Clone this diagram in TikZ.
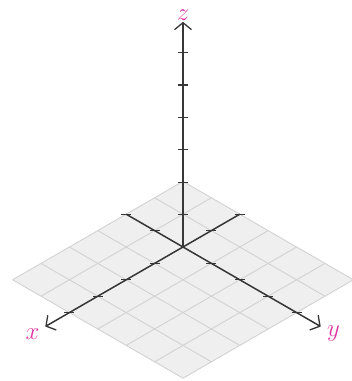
\documentclass[tikz,border=0pt]{standalone}
\usetikzlibrary{arrows.meta}
\definecolor{lab}{RGB}{222,55,165}
\definecolor{axc}{RGB}{55,55,55}
\definecolor{gfill}{RGB}{239,239,239}
\definecolor{gline}{RGB}{210,210,210}
\tikzset{
  axisline/.style={axc,line width=1.5pt,-{Straight Barb[length=7pt,width=17pt,line width=1.3pt]}},
  axisplain/.style={axc,line width=1.5pt},
  tickmark/.style={axc,line width=1.1pt},
  gridline/.style={gline,line width=0.9pt},
  axlabel/.style={lab,font=\fontsize{24}{26}\selectfont,inner sep=0pt}
}
\begin{document}
\begin{tikzpicture}[x={(-28.4pt,-16.4pt)},y={(28.4pt,-16.4pt)},z={(0pt,32.4pt)}]
\useasboundingbox (-183pt,-134pt) rectangle (169pt,247pt);
% plane
\fill[gfill] (-2,-2,0) -- (4,-2,0) -- (4,4,0) -- (-2,4,0) -- cycle;
\foreach \i in {-2,...,4}{
  \draw[gridline] (\i,-2,0) -- (\i,4,0);
  \draw[gridline] (-2,\i,0) -- (4,\i,0);
}
\coordinate (O) at (0,0,0);
\coordinate (xn) at (-2,0,0);
\coordinate (yn) at (0,-2,0);
\coordinate (xe) at (4.85,0,0);
\coordinate (ye) at (0,4.85,0);
\coordinate (ze) at (0,0,6.95);
\draw[axisplain] (xn) -- (O);
\draw[axisplain] (yn) -- (O);
\draw[axisline] (O) -- (xe);
\draw[axisline] (O) -- (ye);
\draw[axisline] (O) -- (ze);
\foreach \t in {-2,-1,1,2,3,4}{
  \draw[tickmark] (\t,0,0) ++(-5pt,0pt) -- ++(10pt,0pt);
  \draw[tickmark] (0,\t,0) ++(-5pt,0pt) -- ++(10pt,0pt);
}
\foreach \t in {1,...,6}{
  \draw[tickmark] (0,0,\t) ++(-5pt,0pt) -- ++(10pt,0pt);
}
\node[axlabel] (xl) at (5.3,0,0) {$x$};
\node[axlabel] (yl) at (0,5.3,0) {$y$};
\node[axlabel] (zl) at (0,0,7.17) {$z$};
\end{tikzpicture}
\end{document}
